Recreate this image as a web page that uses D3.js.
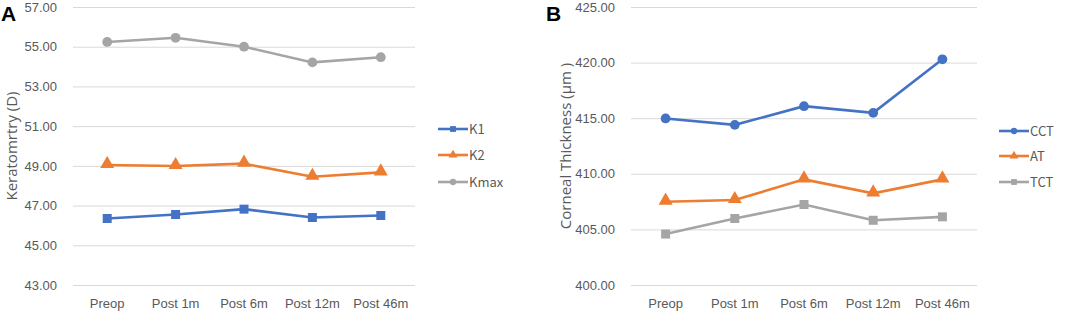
<!DOCTYPE html>
<html>
<head>
<meta charset="utf-8">
<script src="https://cdn.jsdelivr.net/npm/d3@7"></script>
<style>
  body { margin: 0; background: #fff; }
  svg { display: block; font-family: "Noto Sans CJK SC", "Open Sans", sans-serif; }
  .tick text { fill: #595959; font-size: 13px; }
  .grid line { stroke: #d9d9d9; stroke-width: 1; }
  .axis-title { fill: #595959; font-size: 15px; font-family: "Open Sans", sans-serif; }
  .legend text { fill: #595959; font-size: 13px; }
  .panel-label { font-family: "Liberation Sans", Arial, sans-serif; font-weight: bold; font-size: 21px; fill: #000; }
</style>
</head>
<body>
<div id="chart"></div>
<script>
// time points
const categories = ["Preop", "Post 1m", "Post 6m", "Post 12m", "Post 46m"];

// panel A - keratometry (D)
const k1 = [46.35, 46.55, 46.82, 46.40, 46.50];
const k2 = [49.04, 48.99, 49.11, 48.45, 48.67];
const kmax = [55.24, 55.45, 55.00, 54.21, 54.47];
const ticksA = [43, 45, 47, 49, 51, 53, 55, 57];

// panel B - corneal thickness (um)
const cct = [414.98, 414.40, 416.08, 415.48, 420.30];
const at = [407.49, 407.64, 409.50, 408.24, 409.50];
const tct = [404.58, 405.98, 407.24, 405.82, 406.13];
const ticksB = [400, 405, 410, 415, 420, 425];

const colors = { blue: "#4472C4", orange: "#ED7D31", gray: "#A5A5A5" };

const svg = d3.select("#chart").append("svg")
	.attr("width", 1072)
	.attr("height", 313);

function drawPanel(opts) {
	let g = svg.append("g");

	let x = d3.scaleBand()
		.domain(categories)
		.range([opts.left, opts.right]);

	let y = d3.scaleLinear()
		.domain(opts.domain)
		.range([285, 7]);

	// gridlines + tick labels
	g.append("g")
		.attr("class", "grid")
		.attr("transform", `translate(${opts.left},0)`)
		.call(d3.axisLeft(y).tickValues(opts.ticks).tickFormat(d3.format(".2f"))
			.tickSize(-(opts.right - opts.left)).tickPadding(16))
		.call(a => a.select(".domain").remove())
		.call(a => a.selectAll(".tick text").attr("dy", "0.32em"));

	// category labels
	g.append("g")
		.attr("transform", "translate(0,285)")
		.call(d3.axisBottom(x).tickSize(0).tickPadding(14))
		.call(a => a.select(".domain").remove());

	// y title
	g.append("text")
		.attr("class", "axis-title")
		.attr("transform", `translate(${opts.titleX},146) rotate(-90)`)
		.attr("text-anchor", "middle")
		.attr("dy", "0.35em")
		.text(opts.title);

	// panel letter
	g.append("text")
		.attr("class", "panel-label")
		.attr("x", opts.letterX)
		.attr("y", 21)
		.text(opts.letter);

	let line = d3.line()
		.x((d, i) => x(categories[i]) + x.bandwidth() / 2)
		.y(d => y(d));

	opts.series.forEach((s, si) => {
		g.append("path")
			.datum(s.values)
			.attr("fill", "none")
			.attr("stroke", s.color)
			.attr("stroke-width", 2.6)
			.attr("d", line);

		let sym = d3.symbol().type(s.symbol).size(s.size);
		g.selectAll(null)
			.data(s.values)
			.enter()
			.append("path")
			.attr("d", sym)
			.attr("fill", s.color)
			.attr("transform", (d, i) => `translate(${x(categories[i]) + x.bandwidth() / 2},${y(d) + (s.symbol === d3.symbolTriangle ? -1 : 0)})`);

		// legend entry
		let ly = opts.legendY[si];
		let lg = g.append("g").attr("class", "legend")
			.attr("transform", `translate(${opts.legendX},${ly})`);
		lg.append("line")
			.attr("x1", 0).attr("x2", 30)
			.attr("stroke", s.color)
			.attr("stroke-width", 2.6);
		lg.append("path")
			.attr("d", d3.symbol().type(s.symbol).size(s.size * 0.42))
			.attr("transform", "translate(15,0)")
			.attr("fill", s.color);
		lg.append("text")
			.attr("x", 31)
			.attr("dy", "0.35em")
			.text(s.name);
	});
}

drawPanel({
	left: 73, right: 415, domain: [43, 57], ticks: ticksA,
	title: "Keratomrtry (D)", titleX: 12, letter: "A", letterX: 1,
	legendX: 438, legendY: [129, 155, 182],
	series: [
		{ name: "K1", values: k1, color: colors.blue, symbol: d3.symbolSquare, size: 81 },
		{ name: "K2", values: k2, color: colors.orange, symbol: d3.symbolTriangle, size: 85 },
		{ name: "Kmax", values: kmax, color: colors.gray, symbol: d3.symbolCircle, size: 75 }
	]
});

drawPanel({
	left: 631, right: 977, domain: [400, 425], ticks: ticksB,
	title: "Corneal Thickness (μm )", titleX: 566, letter: "B", letterX: 546,
	legendX: 999, legendY: [131, 156, 182],
	series: [
		{ name: "CCT", values: cct, color: colors.blue, symbol: d3.symbolCircle, size: 75 },
		{ name: "AT", values: at, color: colors.orange, symbol: d3.symbolTriangle, size: 85 },
		{ name: "TCT", values: tct, color: colors.gray, symbol: d3.symbolSquare, size: 81 }
	]
});
</script>
</body>
</html>
